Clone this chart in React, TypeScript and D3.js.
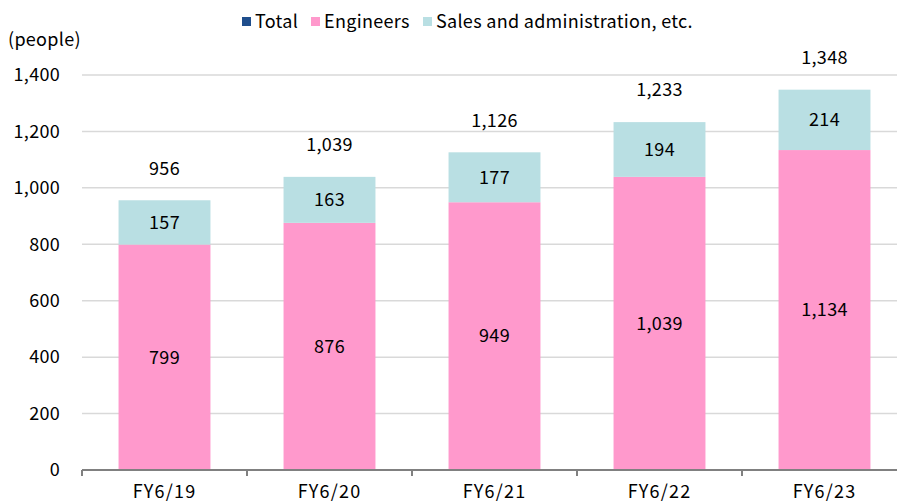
import React, { useEffect, useRef } from "react"
import * as d3 from "d3"

const years = ["FY6/19", "FY6/20", "FY6/21", "FY6/22", "FY6/23"]
const engineers = [799, 876, 949, 1039, 1134]
const sales = [157, 163, 177, 194, 214]
const totals = [956, 1039, 1126, 1233, 1348]
const yTicks = [0, 200, 400, 600, 800, 1000, 1200, 1400]

const legendItems = [
    { name: "Total", color: "#1F4E8C" },
    { name: "Engineers", color: "#FF99CC" },
    { name: "Sales and administration, etc.", color: "#B9DFE3" },
]

const font = "'Noto Sans CJK JP', 'Noto Sans', sans-serif"
const fontSize = 18
const spacing = 0.3

const App = () => {
    const ref = useRef<SVGGElement>(null)

    useEffect(() => {
        const g = d3.select(ref.current)
        g.selectAll("*").remove()

        const width = 897
        const height = 503
        const margin = { top: 75, right: -10, bottom: 33, left: 82 }
        const innerWidth = width - margin.left - margin.right
        const innerHeight = height - margin.top - margin.bottom

        const xScale = d3.scaleBand()
            .domain(years)
            .range([0, innerWidth])
            .paddingInner(0.443)
            .paddingOuter(0.2215)

        const yScale = d3.scaleLinear()
            .domain([0, 1400])
            .range([innerHeight, 0])

        const plot = g.append("g")
            .attr("transform", `translate(${margin.left}, ${margin.top})`)

        const txt = (sel: any) => sel
            .attr("font-size", fontSize)
            .attr("font-family", font)
            .attr("letter-spacing", spacing)
            .attr("fill", "#000")

        // grid
        plot.selectAll(".grid")
            .data(yTicks.filter(d => d > 0))
            .enter().append("line")
                .attr("x1", 0)
                .attr("x2", innerWidth)
                .attr("y1", d => yScale(d))
                .attr("y2", d => yScale(d))
                .attr("stroke", "#D9D9D9")
                .attr("stroke-width", 1.5)

        // y labels
        plot.selectAll(".ylab")
            .data(yTicks)
            .enter().append("text")
                .attr("x", -22)
                .attr("y", d => yScale(d))
                .attr("dy", "0.35em")
                .attr("text-anchor", "end")
                .call(txt)
                .text(d => d3.format(",")(d))

        const stack = years.map((y, i) => ({ year: y, eng: engineers[i], sal: sales[i], total: totals[i] }))

        plot.selectAll(".eng")
            .data(stack)
            .enter().append("rect")
                .attr("x", d => xScale(d.year)!)
                .attr("width", xScale.bandwidth())
                .attr("y", d => yScale(d.eng))
                .attr("height", d => yScale(0) - yScale(d.eng))
                .attr("fill", "#FF99CC")

        plot.selectAll(".sal")
            .data(stack)
            .enter().append("rect")
                .attr("x", d => xScale(d.year)!)
                .attr("width", xScale.bandwidth())
                .attr("y", d => yScale(d.eng + d.sal))
                .attr("height", d => yScale(d.eng) - yScale(d.eng + d.sal))
                .attr("fill", "#B9DFE3")

        const cx = (d: any) => xScale(d.year)! + xScale.bandwidth() / 2

        const label = (sel: any, yFn: (d: any) => number, t: (d: any) => string) => {
            sel.enter().append("text")
                .attr("x", cx)
                .attr("y", yFn)
                .attr("dy", "0.35em")
                .attr("text-anchor", "middle")
                .call(txt)
                .text(t)
        }

        label(plot.selectAll(".engl").data(stack), d => yScale(d.eng / 2), d => d3.format(",")(d.eng))
        label(plot.selectAll(".sall").data(stack), d => yScale(d.eng + d.sal / 2), d => d3.format(",")(d.sal))
        label(plot.selectAll(".totl").data(stack), d => yScale(d.total) - 32, d => d3.format(",")(d.total))

        // x axis
        plot.append("line")
            .attr("x1", 0)
            .attr("x2", innerWidth)
            .attr("y1", innerHeight)
            .attr("y2", innerHeight)
            .attr("stroke", "#808080")
            .attr("stroke-width", 2)

        const step = xScale.step()
        plot.selectAll(".xtick")
            .data(d3.range(years.length + 1))
            .enter().append("line")
                .attr("x1", d => d * step)
                .attr("x2", d => d * step)
                .attr("y1", innerHeight)
                .attr("y2", innerHeight + 6)
                .attr("stroke", "#808080")
                .attr("stroke-width", 2)

        plot.selectAll(".xlab")
            .data(years)
            .enter().append("text")
                .attr("x", d => xScale(d)! + xScale.bandwidth() / 2)
                .attr("y", innerHeight + 22)
                .attr("dy", "0.35em")
                .attr("text-anchor", "middle")
                .call(txt)
                .attr("letter-spacing", 1.2)
                .text(d => d)

        // axis title
        g.append("text")
            .attr("x", 8)
            .attr("y", 40)
            .attr("dy", "0.35em")
            .call(txt)
            .text("(people)")

        // legend
        const legend = g.append("g")
        const legendX = [242, 311, 423]
        legendItems.forEach((item, i) => {
            legend.append("rect")
                .attr("x", legendX[i])
                .attr("y", 17)
                .attr("width", 9)
                .attr("height", 9)
                .attr("fill", item.color)
            legend.append("text")
                .attr("x", legendX[i] + 13)
                .attr("y", 21.5)
                .attr("dy", "0.35em")
                .call(txt)
                .text(item.name)
        })
    }, [])

    return (
        <svg width={897} height={503} style={{ position: "absolute", left: 0, top: 0 }}>
            <g ref={ref} />
        </svg>
    )
}

export default App
